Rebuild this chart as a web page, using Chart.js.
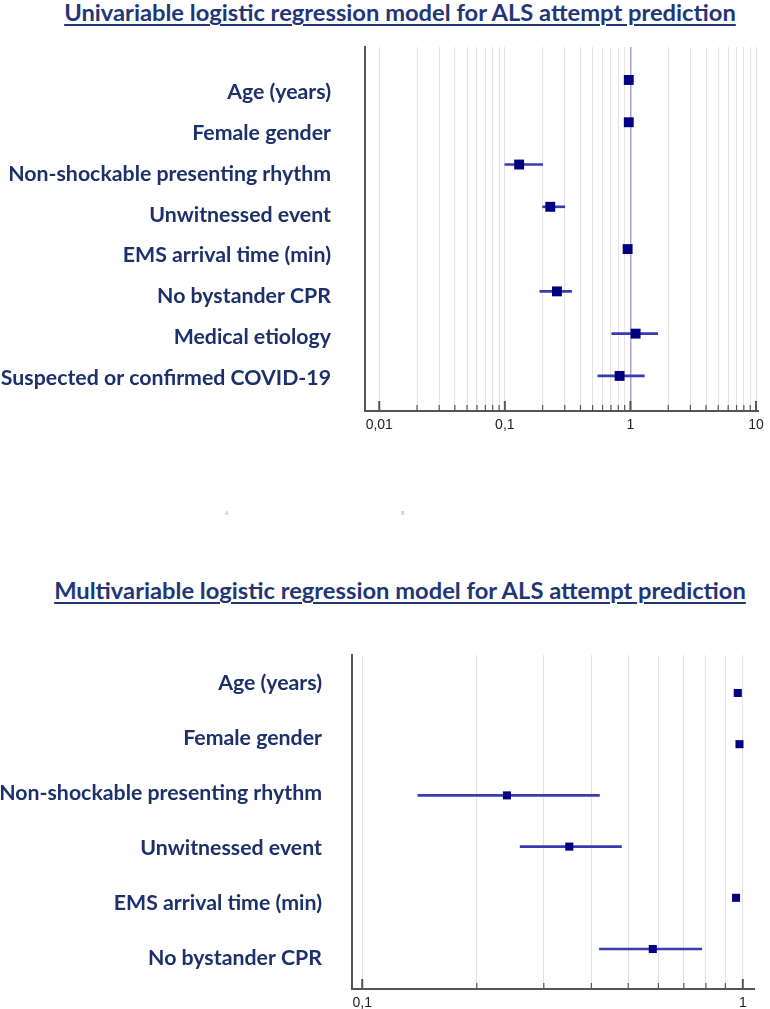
<!DOCTYPE html>
<html>
<head>
<meta charset="utf-8">
<script src="https://cdn.jsdelivr.net/npm/chart.js@4.4.1/dist/chart.umd.min.js"></script>
<style>
  body { margin: 0; background: #fff; width: 770px; height: 1009px; position: relative; overflow: hidden; }
  .title { position: absolute; left: 0; width: 800px; text-align: center; font-family: Lato, sans-serif; font-weight: bold;
           color: #1f3677; text-decoration: underline; text-decoration-thickness: 2px; text-underline-offset: 3px; white-space: nowrap; }
  .box { position: absolute; left: 0; width: 770px; }
  .mark { position: absolute; font-family: Arial, sans-serif; font-size: 5px; color: #b0b0b0; }
</style>
</head>
<body>
<div class="title" id="t1">Univariable logistic regression model for ALS attempt prediction</div>
<div class="box" style="top:30px;height:420px"><canvas id="uni"></canvas></div>
<div class="mark" style="left:225px;top:510px">A</div>
<div class="mark" style="left:401px;top:510px">B</div>
<div class="title" id="t2">Multivariable logistic regression model for ALS attempt prediction</div>
<div class="box" style="top:640px;height:369px"><canvas id="multi"></canvas></div>

<script>
// univariable model
var uniLabels = ['Age (years)', 'Female gender', 'Non-shockable presenting rhythm', 'Unwitnessed event',
                 'EMS arrival time (min)', 'No bystander CPR', 'Medical etiology', 'Suspected or confirmed COVID-19'];
var uniOR   = [0.97, 0.97, 0.13, 0.23, 0.95, 0.26, 1.10, 0.82];
var uniLow  = [0.96, 0.96, 0.10, 0.20, 0.94, 0.19, 0.71, 0.55];
var uniHigh = [0.98, 0.99, 0.20, 0.30, 0.97, 0.34, 1.65, 1.29];
var uniTicks = [0.01, 0.02, 0.03, 0.04, 0.05, 0.06, 0.07, 0.08, 0.09,
                0.1, 0.2, 0.3, 0.4, 0.5, 0.6, 0.7, 0.8, 0.9,
                1, 2, 3, 4, 5, 6, 7, 8, 9, 10];
var uniTickValues = [0.01, 0.1, 1, 10];
var uniTickLabels = ['0,01', '0,1', '1', '10'];

// multivariable model
var multiLabels = ['Age (years)', 'Female gender', 'Non-shockable presenting rhythm', 'Unwitnessed event',
                   'EMS arrival time (min)', 'No bystander CPR'];
var multiOR   = [0.97, 0.98, 0.24, 0.35, 0.96, 0.58];
var multiLow  = [0.96, 0.97, 0.14, 0.26, 0.94, 0.42];
var multiHigh = [0.98, 0.99, 0.42, 0.48, 0.98, 0.78];
var multiTicks = [0.1, 0.2, 0.3, 0.4, 0.5, 0.6, 0.7, 0.8, 0.9, 1];
var multiTickValues = [0.1, 1];
var multiTickLabels = ['0,1', '1'];

var labelColor = '#1c306b';

var fitSize = function(text, family, target) {
  var c = document.createElement('canvas').getContext('2d');
  c.font = 'bold 100px ' + family;
  return 100 * target / c.measureText(text).width;
};

var labelSize = fitSize('Non-shockable presenting rhythm', 'Lato', 323);
var titleSize = fitSize('Univariable logistic regression model for ALS attempt prediction', 'Lato', 673);

var placeTitle = function(id, centerY) {
  var el = document.getElementById(id);
  el.style.fontSize = titleSize + 'px';
  el.style.lineHeight = titleSize + 'px';
  el.style.top = (centerY - titleSize / 2) + 'px';
};
placeTitle('t1', 13);
placeTitle('t2', 591);

// tick marks pointing up into the plot, like the original
var innerTicks = {
  id: 'innerTicks',
  afterDatasetsDraw: function(chart, args, opts) {
    var xs = chart.scales.x, ctx = chart.ctx, y0 = chart.chartArea.bottom;
    ctx.save();
    ctx.strokeStyle = '#555';
    xs.ticks.forEach(function(t) {
      var px = xs.getPixelForValue(t.value);
      var major = opts.major.indexOf(t.value) >= 0;
      ctx.lineWidth = major ? 2 : 1.2;
      ctx.beginPath();
      ctx.moveTo(px, y0);
      ctx.lineTo(px, y0 - (major ? 10 : 6));
      ctx.stroke();
    });
    ctx.restore();
  }
};

var forest = function(canvasId, cfg) {
  var ctx = document.getElementById(canvasId).getContext('2d');
  return new Chart(ctx, {
    type: 'scatter',
    data: {
      datasets: [{
        type: 'scatter',
        data: cfg.or.map(function(v, i) { return {x: v, y: i}; }),
        pointStyle: 'rect',
        pointRadius: cfg.radius,
        pointHoverRadius: cfg.radius,
        backgroundColor: '#000080',
        borderColor: '#000080',
        borderWidth: 0,
        xAxisID: 'x',
        yAxisID: 'y'
      }, {
        type: 'bar',
        indexAxis: 'y',
        data: cfg.or.map(function(v, i) { return {y: i, x: [cfg.low[i], cfg.high[i]]}; }),
        backgroundColor: '#3b3bb0',
        barThickness: 2,
        grouped: false,
        xAxisID: 'x',
        yAxisID: 'y'
      }]
    },
    options: {
      responsive: true,
      maintainAspectRatio: false,
      animation: false,
      layout: { autoPadding: false, padding: { top: cfg.padTop, right: cfg.padRight, left: 0, bottom: 0 } },
      plugins: {
        legend: { display: false },
        tooltip: { enabled: false },
        innerTicks: { major: cfg.tickValues }
      },
      scales: {
        x: {
          type: 'logarithmic',
          min: cfg.xmin,
          max: cfg.xmax,
          offset: false,
          afterBuildTicks: function(axis) {
            axis.ticks = cfg.ticks.map(function(v) { return {value: v, major: cfg.tickValues.indexOf(v) >= 0}; });
          },
          afterFit: function(axis) { axis.height = cfg.xHeight; },
          grid: {
            drawTicks: false,
            offset: false,
            color: function(c) { return (cfg.refLine && c.tick && c.tick.value === 1) ? '#a3a3d9' : '#e3e3e3'; },
            lineWidth: function(c) { return (cfg.refLine && c.tick && c.tick.value === 1) ? 1.5 : 1; }
          },
          border: { display: true, color: '#555', width: 2 },
          ticks: {
            autoSkip: false,
            maxRotation: 0,
            padding: 6,
            color: '#222',
            font: { family: 'Liberation Sans', size: 14 },
            callback: function(v) {
              var k = cfg.tickValues.indexOf(v);
              return k >= 0 ? cfg.tickLabels[k] : '';
            }
          }
        },
        y: {
          type: 'linear',
          display: false,
          reverse: true,
          offset: false,
          grid: { offset: false },
          min: cfg.pmin,
          max: cfg.pmax
        },
        yl: {
          type: 'linear',
          position: 'left',
          reverse: true,
          offset: false,
          min: cfg.lmin,
          max: cfg.lmax,
          afterBuildTicks: function(axis) {
            axis.ticks = cfg.labels.map(function(l, i) { return {value: i}; });
          },
          afterFit: function(axis) {
            axis.width = cfg.left;
            axis.paddingTop = 0;
            axis.paddingBottom = 0;
          },
          grid: { display: false, drawTicks: false },
          border: { display: true, color: '#555', width: 2 },
          ticks: {
            autoSkip: false,
            padding: cfg.labelPad,
            color: labelColor,
            font: { family: 'Lato', weight: 'bold', size: labelSize },
            callback: function(v) { return cfg.labels[v]; }
          }
        }
      }
    },
    plugins: [innerTicks]
  });
};

forest('uni', {
  labels: uniLabels, or: uniOR, low: uniLow, high: uniHigh,
  ticks: uniTicks, tickValues: uniTickValues, tickLabels: uniTickLabels,
  xmin: 0.0077, xmax: 10.37, refLine: true, radius: 7,
  left: 365, padTop: 17, padRight: 12, xHeight: 39, labelPad: 34,
  pmin: -0.78, pmax: 7.83, lmin: -1.10, lmax: 7.80
});

forest('multi', {
  labels: multiLabels, or: multiOR, low: multiLow, high: multiHigh,
  ticks: multiTicks, tickValues: multiTickValues, tickLabels: multiTickLabels,
  xmin: 0.094, xmax: 1.07, refLine: false, radius: 5.7,
  left: 352, padTop: 15, padRight: 16, xHeight: 20, labelPad: 30,
  pmin: -0.742, pmax: 5.781, lmin: -0.509, lmax: 5.564
});
</script>
</body>
</html>
